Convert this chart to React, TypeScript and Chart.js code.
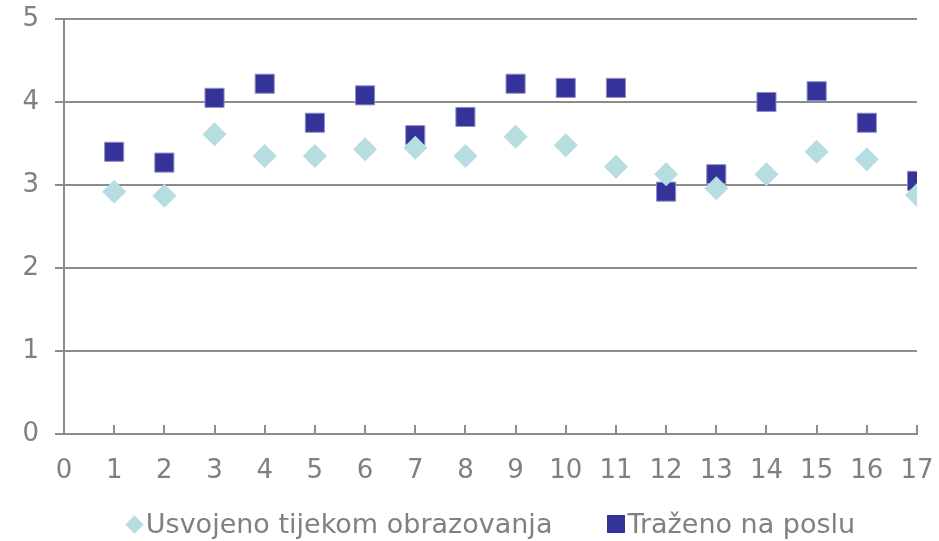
import React, { useEffect, useRef } from 'react';
import { Chart, registerables } from 'chart.js';

Chart.register(...registerables);

const xValues = [1, 2, 3, 4, 5, 6, 7, 8, 9, 10, 11, 12, 13, 14, 15, 16, 17];
const usvojeno = [2.92, 2.87, 3.61, 3.35, 3.35, 3.43, 3.45, 3.35, 3.58, 3.48, 3.22, 3.13, 2.96, 3.13, 3.4, 3.31, 2.88];
const trazeno = [3.4, 3.27, 4.05, 4.22, 3.75, 4.08, 3.6, 3.82, 4.22, 4.17, 4.17, 2.92, 3.13, 4.0, 4.13, 3.75, 3.05];
const seriesNames = ['Usvojeno tijekom obrazovanja', 'Traženo na poslu'];
const xMin = 0;
const xMax = 17;
const yMin = 0;
const yMax = 5;

const LIGHT = '#b6dde0';
const DARK = '#333399';
const AXIS = '#8c8c8c';
const TEXT = '#808080';
const FONT = "'DejaVu Sans'";

const innerTicks = {
  id: 'innerTicks',
  afterDatasetsDraw(chart: any) {
    const xs = chart.scales.x;
    const { ctx, chartArea } = chart;
    ctx.save();
    ctx.strokeStyle = AXIS;
    ctx.lineWidth = 2;
    for (let v = xMin + 1; v <= xMax; v++) {
      const px = Math.round(xs.getPixelForValue(v));
      ctx.beginPath();
      ctx.moveTo(px, chartArea.bottom);
      ctx.lineTo(px, chartArea.bottom - 9);
      ctx.stroke();
    }
    ctx.restore();
  },
};

export default function App() {
  const ref = useRef<HTMLCanvasElement>(null);
  useEffect(() => {
    document.body.style.margin = '0';
    const mk = (arr: number[]) => xValues.map((x, i) => ({ x, y: arr[i] }));
    const chart = new Chart(ref.current!, {
      type: 'scatter',
      data: {
        datasets: [
          {
            label: seriesNames[0],
            data: mk(usvojeno),
            backgroundColor: LIGHT,
            borderColor: LIGHT,
            borderWidth: 0,
            pointStyle: 'rectRot',
            pointRadius: 12,
          },
          {
            label: seriesNames[1],
            data: mk(trazeno),
            backgroundColor: DARK,
            borderColor: '#8f8fc8',
            borderWidth: 1,
            pointStyle: 'rect',
            pointRadius: 13.5,
          },
        ],
      },
      plugins: [innerTicks],
      options: {
        animation: false,
        responsive: false,
        layout: { padding: { top: 19, right: 22, bottom: 50, left: 0 } },
        plugins: { legend: { display: false }, tooltip: { enabled: false } },
        scales: {
          x: {
            type: 'linear',
            min: xMin,
            max: xMax,
            afterFit: (s: any) => {
              s.height = 57;
              s.paddingLeft = 0;
              s.paddingRight = 0;
            },
            ticks: { stepSize: 1, color: TEXT, font: { family: FONT, size: 26 }, padding: 22 },
            grid: { display: false, drawTicks: false },
            border: { display: true, color: AXIS, width: 2 },
          },
          y: {
            min: yMin,
            max: yMax,
            afterFit: (s: any) => {
              s.width = 64;
              s.paddingTop = 0;
              s.paddingBottom = 0;
            },
            ticks: { stepSize: 1, color: TEXT, font: { family: FONT, size: 26 }, padding: 16 },
            grid: { color: AXIS, lineWidth: 2, tickLength: 9, drawTicks: true },
            border: { display: true, color: AXIS, width: 2 },
          },
        },
      },
    });
    return () => chart.destroy();
  }, []);

  const legendText: React.CSSProperties = { fontFamily: FONT, fontSize: 27, color: TEXT, lineHeight: '30px' };
  return (
    <div style={{ position: 'relative', width: 939, height: 541 }}>
      <canvas ref={ref} width={939} height={541} style={{ display: 'block' }} />
      <div style={{ position: 'absolute', left: 0, top: 509, width: 939, paddingLeft: 44, boxSizing: 'border-box', display: 'flex', justifyContent: 'center', alignItems: 'center' }}>
        <span style={{ display: 'inline-block', width: 13, height: 13, background: LIGHT, transform: 'rotate(45deg)', marginRight: 5 }} />
        <span style={legendText}>{seriesNames[0]}</span>
        <span style={{ display: 'inline-block', width: 18, height: 18, background: DARK, marginLeft: 55, marginRight: 2 }} />
        <span style={legendText}>{seriesNames[1]}</span>
      </div>
    </div>
  );
}
